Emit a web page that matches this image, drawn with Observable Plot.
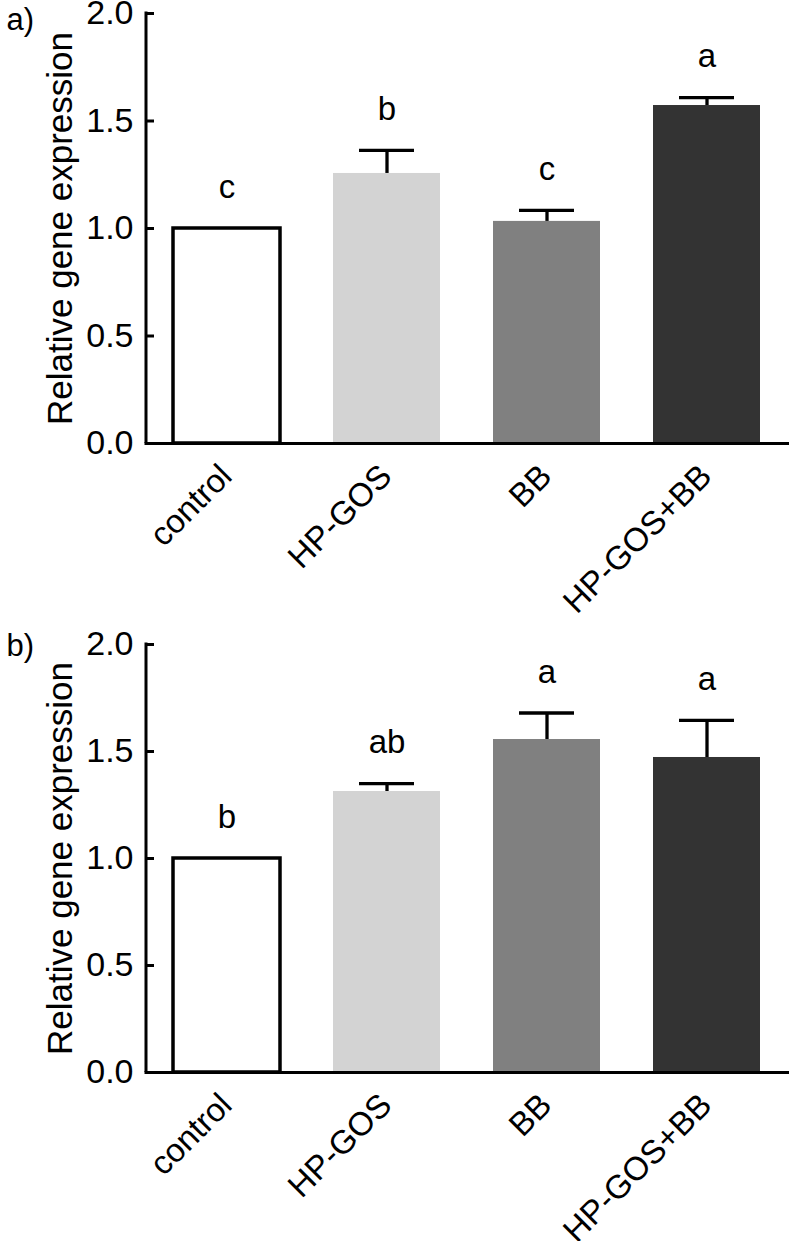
<!DOCTYPE html>
<html>
<head>
<meta charset="utf-8">
<script src="https://cdn.jsdelivr.net/npm/d3@7"></script>
<script src="https://cdn.jsdelivr.net/npm/@observablehq/plot@0.6"></script>
<style>
  html, body { margin: 0; padding: 0; background: white; }
  #chart svg { display: block; }
</style>
</head>
<body>
<div id="chart"></div>
<script>
// ---- data ----
const categories = ["control", "HP-GOS", "BB", "HP-GOS+BB"];
const barColors = ["white", "#d3d3d3", "#808080", "#333333"];
const yTicks = [0, 0.5, 1.0, 1.5, 2.0];
const yLabel = "Relative gene expression";

const panelTags = ["a)", "b)"];

const meansA = [1.0, 1.256, 1.033, 1.572];
const errA = [0, 0.107, 0.051, 0.037];
const lettersA = ["c", "b", "c", "a"];

const meansB = [1.0, 1.313, 1.556, 1.472];
const errB = [0, 0.037, 0.124, 0.173];
const lettersB = ["b", "ab", "a", "a"];

// ---- drawing ----
const FONT = "'Liberation Sans', Arial, Helvetica, sans-serif";
const W = 791, ML = 146, MR = 4, MT = 13;
const frameW = W - ML - MR;

function panel(means, errs, letters, tag, height, marginBottom, tagDy) {
  const data = categories.map((c, i) => ({
    cat: c, mean: means[i], err: errs[i], top: means[i] + errs[i], letter: letters[i]
  }));
  const withErr = data.filter(d => d.err > 0);
  return Plot.plot({
    width: W, height,
    marginTop: MT, marginLeft: ML, marginRight: MR, marginBottom,
    style: { fontFamily: FONT, color: "black", background: "white", overflow: "visible" },
    x: { domain: categories, paddingInner: 0.33, paddingOuter: 0.156, axis: null },
    y: { domain: [0, 2], axis: null },
    color: { domain: categories, range: barColors },
    marks: [
      Plot.barY(data.filter(d => d.cat !== "control"), { x: "cat", y: "mean", fill: "cat" }),
      Plot.barY(data.filter(d => d.cat === "control"), { x: "cat", y: "mean", fill: "white", stroke: "black", strokeWidth: 3.5 }),
      Plot.ruleX(withErr, { x: "cat", y1: "mean", y2: "top", stroke: "black", strokeWidth: 3.3 }),
      Plot.tickY(withErr, { x: "cat", y: "top", stroke: "black", strokeWidth: 3.3, insetLeft: 26, insetRight: 26 }),
      Plot.text(data, { x: "cat", y: "top", text: "letter", fontSize: 33, dy: -41, fill: "black" }),
      // axes
      Plot.ruleY([0], { stroke: "black", strokeWidth: 3, insetLeft: -1.5, insetRight: -2 }),
      Plot.rect([0], { y1: 0, y2: 2, fill: "black", insetLeft: -1.5, insetRight: frameW - 1.5, insetTop: -1.5 }),
      Plot.tickY(yTicks, { y: d => d, stroke: "black", strokeWidth: 3, insetRight: frameW - 8 }),
      Plot.axisY(yTicks, { tickSize: 0, tickPadding: 13, fontSize: 34, tickFormat: d3.format(".1f"), label: null }),
      Plot.text(categories, {
        x: d => d, frameAnchor: "bottom", text: d => d, rotate: -45,
        textAnchor: "end", lineAnchor: "top", dx: -10, dy: 18, fontSize: 33, fill: "black"
      }),
      Plot.text([yLabel], {
        frameAnchor: "left", text: d => d, rotate: -90, lineAnchor: "top", textAnchor: "middle",
        dx: 47 - ML, fontSize: 35, fill: "black"
      }),
      Plot.text([tag], {
        frameAnchor: "top-left", text: d => d, textAnchor: "start", lineAnchor: "top",
        dx: 6 - ML, dy: tagDy, fontSize: 31, fill: "black"
      })
    ]
  });
}

const chart = document.getElementById("chart");
chart.appendChild(panel(meansA, errA, lettersA, panelTags[0], 631, 631 - 443, -6));
chart.appendChild(panel(meansB, errB, lettersB, panelTags[1], 610, 610 - 441, -11));
</script>
</body>
</html>
